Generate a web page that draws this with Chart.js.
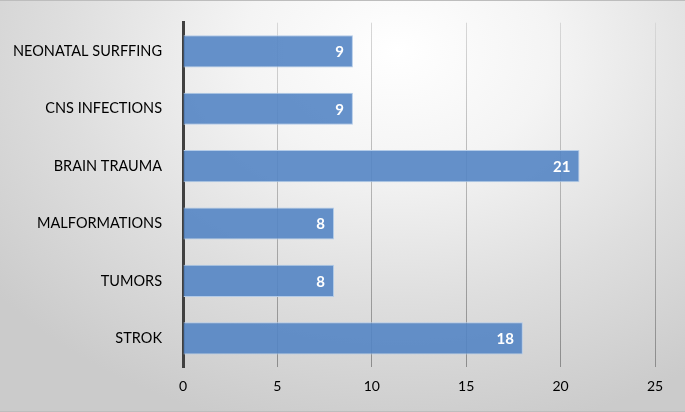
<!DOCTYPE html>
<html>
<head>
<meta charset="utf-8">
<script src="https://cdn.jsdelivr.net/npm/chart.js@4/dist/chart.umd.min.js"></script>
<style>
	html, body { margin: 0; padding: 0; }
	#wrap {
		width: 685px; height: 412px; position: relative; box-sizing: border-box;
		border-top: 1px solid #bdbdbd; border-bottom: 1px solid #bdbdbd;
		background: radial-gradient(ellipse 75% 95% at 58% 12%, #ffffff 0%, #f4f4f4 30%, #dedede 65%, #cbcbcb 100%);
	}
	canvas { position: absolute; left: 0; top: 0; }
</style>
</head>
<body>
<div id="wrap"><canvas id="myChart" width="685" height="412"></canvas></div>
<script>
const categorias = ["NEONATAL SURFFING", "CNS INFECTIONS", "BRAIN TRAUMA", "MALFORMATIONS", "TUMORS", "STROK"];
const valores = [9, 9, 21, 8, 8, 18];
const ticksX = [0, 5, 10, 15, 20, 25];

const canvas = document.getElementById("myChart");
const ctx = canvas.getContext("2d");

// gridlines get darker toward the bottom, like the background
const gridGrad = ctx.createLinearGradient(0, 20, 0, 366);
gridGrad.addColorStop(0, "#d8d8d8");
gridGrad.addColorStop(1, "#8c8c8c");

// white value labels inside the bar end
const rotulos = {
	id: "rotulos",
	afterDatasetsDraw(chart) {
		const c = chart.ctx;
		const meta = chart.getDatasetMeta(0);
		c.save();
		c.fillStyle = "#ffffff";
		c.font = "bold 15px Lato, 'Open Sans', sans-serif";
		c.textAlign = "right";
		c.textBaseline = "middle";
		meta.data.forEach((bar, i) => {
			c.fillText(String(valores[i]), bar.x - 9, bar.y + 1);
		});
		c.restore();
	},
};

new Chart(canvas, {
	type: "bar",
	data: {
		labels: categorias,
		datasets: [
			{
				data: valores,
				backgroundColor: "rgba(84, 133, 196, 0.9)",
				borderColor: "#b3cbe8",
				borderWidth: 1,
				borderSkipped: "start",
				categoryPercentage: 1,
				barPercentage: 0.56,
			},
		],
	},
	options: {
		indexAxis: "y",
		responsive: false,
		animation: false,
		layout: { padding: { left: 0, right: 30, top: 17, bottom: 0 } },
		plugins: { legend: { display: false }, tooltip: { enabled: false } },
		scales: {
			x: {
				min: 0,
				max: 25,
				afterBuildTicks: (s) => { s.ticks = ticksX.map((v) => ({ value: v })); },
				afterFit: (s) => { s.height = 46; },
				grid: { color: gridGrad, lineWidth: 1, drawTicks: false },
				border: { display: false },
				ticks: { color: "#000", padding: 11, font: { family: "Lato, 'Open Sans', sans-serif", size: 14 } },
			},
			y: {
				afterFit: (s) => { s.width = 183; },
				grid: { display: false },
				border: { display: true, color: "#404040", width: 3 },
				ticks: { color: "#000", padding: 13, font: { family: "Lato, 'Open Sans', sans-serif", size: 14.5 } },
			},
		},
	},
	plugins: [rotulos],
});
</script>
</body>
</html>
